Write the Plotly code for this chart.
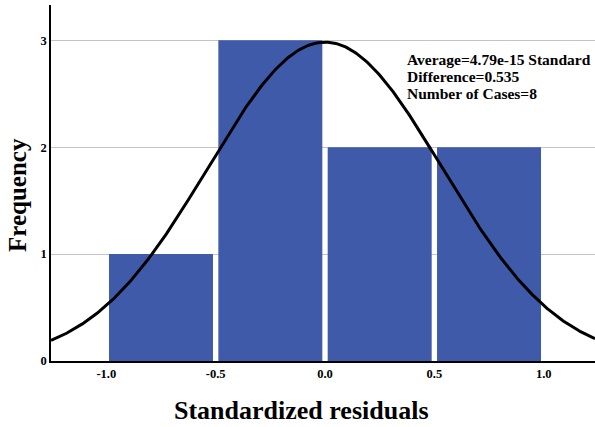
import numpy as np
import plotly.graph_objects as go

# Data
bin_centers = [-0.75, -0.25, 0.25, 0.75]
frequencies = [1, 3, 2, 2]
bin_width = 0.5
mean_val = 4.79e-15
std_val = 0.535
n_cases = 8
x_ticks = [-1.0, -0.5, 0.0, 0.5, 1.0]
x_tick_labels = ["-1.0", "-0.5", "0.0", "0.5", "1.0"]
y_ticks = [0, 1, 2, 3]
stats_lines = ["Average=4.79e-15 Standard", "Difference=0.535", "Number of Cases=8"]
x_title = "Standardized residuals"
y_title = "Frequency"

FONT = "Liberation Serif, Times New Roman, serif"

x_range = [-1.253, 1.2346]
y_range = [0, 3.33]

# Fitted normal curve (from stated mean / std / N)
xs = np.linspace(x_range[0], x_range[1], 400)
ys = n_cases * bin_width / (std_val * np.sqrt(2 * np.pi)) * np.exp(-0.5 * ((xs - mean_val) / std_val) ** 2)

fig = go.Figure()
fig.add_trace(go.Bar(
    x=bin_centers, y=frequencies, width=0.4755,
    marker=dict(color="#3f5aa8", line=dict(width=0)),
    showlegend=False, hoverinfo="x+y",
))
fig.add_trace(go.Scatter(
    x=xs, y=ys, mode="lines",
    line=dict(color="black", width=3),
    showlegend=False, hoverinfo="skip",
))

for i, line in enumerate(stats_lines):
    fig.add_annotation(
        x=0.3644, y=2.823 - i * 17 / 107, xref="x", yref="y",
        xanchor="left", yanchor="middle", align="left", showarrow=False,
        text=line,
        font=dict(family=FONT, size=15.5, color="black", weight="bold"),
    )

# Axis titles (placed as in the original, slightly off-centre)
fig.add_annotation(
    x=0.4596, y=-0.1404, xref="paper", yref="paper",
    xanchor="center", yanchor="middle", showarrow=False,
    text=x_title,
    font=dict(family=FONT, size=26, color="black", weight="bold"),
)
fig.add_annotation(
    x=-0.0607, y=0.4663, xref="paper", yref="paper",
    xanchor="center", yanchor="middle", showarrow=False, textangle=-90,
    text=y_title,
    font=dict(family=FONT, size=25, color="black", weight="bold"),
)

fig.update_layout(
    width=595, height=427,
    margin=dict(l=51, r=0, t=5, b=66),
    plot_bgcolor="white", paper_bgcolor="white",
    xaxis=dict(
        range=x_range, tickvals=x_ticks, ticktext=x_tick_labels,
        showgrid=False, zeroline=False, automargin=False,
        showline=True, linecolor="black", linewidth=1.5,
        ticks="", ticklen=0,
        tickfont=dict(family=FONT, size=12.5, color="black", weight="bold"),
    ),
    yaxis=dict(
        range=y_range, tickvals=y_ticks,
        showgrid=True, gridcolor="#c4c4c4", gridwidth=1,
        zeroline=False, automargin=False,
        showline=True, linecolor="black", linewidth=1.5,
        ticks="", ticklen=0,
        tickfont=dict(family=FONT, size=12.5, color="black", weight="bold"),
    ),
)

fig.write_html("out.html", config={"responsive": False, "displayModeBar": False},
               post_script="document.body.style.margin='0px';")
